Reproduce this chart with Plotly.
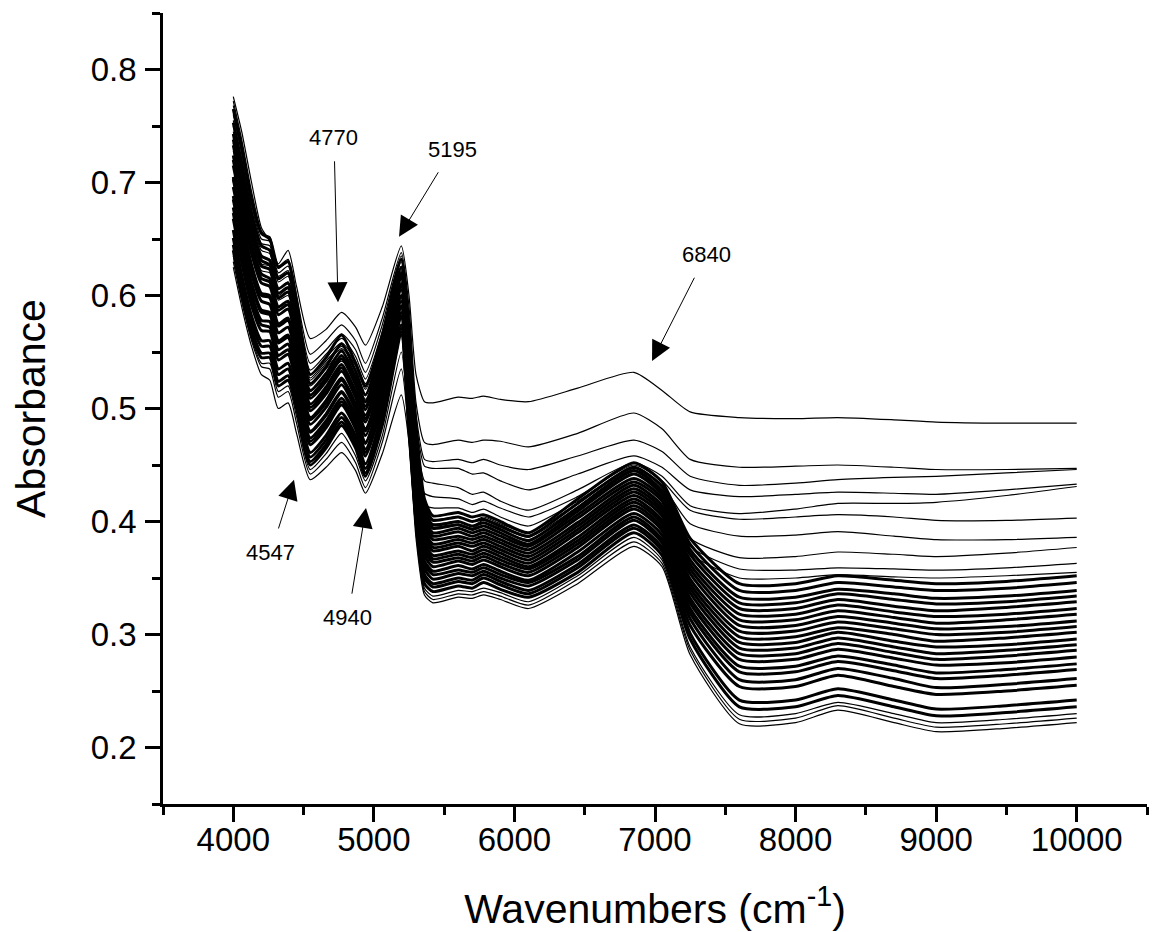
import plotly.graph_objects as go

# Wavenumber grid (cm-1) shared by all spectra
wavenumbers = [4000, 4060, 4130, 4200, 4260, 4320, 4390, 4450, 4547, 4660, 4770, 4870, 4940, 5060,
               5195, 5250, 5300, 5360, 5420, 5600, 5700, 5780, 5900, 6100, 6450, 6850, 7050, 7250,
               7600, 8000, 8300, 8700, 9000, 9500, 10000]

# Upper, well-separated spectra
spec_L01 = [.776,.745,.700,.660,.648,.628,.640,.608,.562,.570,.585,.572,.556,.590,.644,.600,.530,.506,.505,.510,.509,.511,.508,.506,.518,.532,.516,.497,.492,.491,.492,.490,.488,.487,.487]
spec_L02 = [.772,.738,.692,.657,.650,.626,.632,.600,.548,.560,.574,.560,.540,.580,.638,.590,.505,.470,.468,.472,.470,.472,.471,.466,.478,.496,.482,.455,.448,.449,.450,.448,.446,.446,.447]
spec_L03 = [.768,.735,.688,.655,.652,.624,.630,.596,.540,.552,.566,.552,.532,.574,.635,.583,.495,.455,.453,.455,.452,.455,.450,.446,.458,.472,.462,.440,.432,.434,.437,.439,.440,.443,.446]
spec_L04 = [.760,.726,.680,.650,.648,.620,.626,.592,.534,.548,.562,.546,.526,.568,.630,.577,.488,.449,.447,.447,.442,.443,.436,.428,.442,.458,.448,.428,.422,.424,.426,.425,.424,.428,.433]
spec_L05 = [.755,.720,.675,.646,.644,.617,.622,.588,.530,.545,.558,.542,.522,.563,.626,.572,.478,.436,.434,.430,.424,.426,.418,.410,.428,.452,.440,.414,.407,.411,.416,.416,.417,.423,.431]
spec_L06 = [.750,.716,.672,.643,.640,.614,.620,.586,.527,.542,.555,.540,.519,.560,.624,.568,.470,.425,.422,.420,.415,.418,.412,.404,.422,.450,.436,.410,.402,.404,.406,.404,.401,.401,.403]
spec_L07 = [.745,.712,.668,.640,.637,.612,.617,.584,.525,.540,.553,.538,.517,.558,.622,.565,.465,.415,.412,.412,.408,.411,.404,.396,.418,.448,.432,.398,.387,.388,.391,.387,.384,.384,.386]
spec_L08 = [.735,.700,.660,.634,.632,.606,.612,.580,.520,.535,.550,.533,.512,.553,.619,.560,.460,.410,.402,.404,.400,.404,.398,.390,.416,.447,.428,.385,.368,.369,.373,.371,.369,.372,.377]
spec_L09 = [.728,.694,.654,.628,.626,.600,.606,.575,.515,.530,.546,.529,.508,.549,.616,.556,.456,.405,.398,.400,.396,.401,.395,.386,.413,.446,.426,.378,.358,.357,.359,.358,.357,.359,.363]
spec_L10 = [.722,.688,.648,.622,.620,.596,.600,.570,.511,.526,.542,.526,.505,.546,.612,.552,.452,.402,.395,.398,.394,.399,.392,.384,.410,.445,.424,.372,.350,.350,.353,.351,.350,.352,.355]

# Dense band of spectra
spec_S01 = [.645,.605,.570,.549,.549,.524,.529,.504,.453,.468,.488,.468,.443,.488,.568,.483,.403,.345,.338,.343,.341,.346,.340,.333,.355,.390,.370,.296,.236,.236,.246,.236,.228,.231,.236]
spec_S02 = [.640,.600,.565,.545,.545,.520,.525,.500,.450,.465,.485,.465,.440,.485,.565,.480,.400,.350,.342,.347,.345,.350,.344,.336,.359,.394,.374,.301,.242,.242,.252,.242,.234,.237,.242]
spec_S03 = [.658,.618,.582,.560,.560,.535,.540,.513,.461,.476,.496,.476,.451,.496,.574,.491,.412,.353,.345,.350,.348,.353,.347,.339,.362,.397,.377,.308,.254,.254,.264,.254,.247,.250,.255]
spec_S04 = [.651,.612,.576,.555,.555,.530,.535,.509,.457,.472,.492,.472,.447,.492,.571,.487,.408,.358,.349,.354,.352,.356,.350,.343,.366,.401,.381,.314,.260,.260,.270,.261,.253,.256,.261]
spec_S05 = [.668,.629,.591,.569,.568,.543,.548,.521,.468,.483,.503,.482,.458,.503,.580,.498,.419,.362,.353,.357,.355,.359,.353,.346,.369,.404,.384,.319,.267,.267,.276,.268,.261,.264,.269]
spec_S06 = [.678,.639,.601,.578,.577,.552,.557,.529,.474,.489,.509,.488,.464,.509,.585,.504,.426,.365,.356,.361,.358,.362,.356,.348,.373,.407,.388,.323,.272,.272,.281,.273,.266,.269,.274]
spec_S07 = [.673,.634,.596,.574,.572,.547,.552,.525,.471,.486,.506,.485,.461,.506,.582,.501,.422,.370,.360,.365,.362,.366,.360,.352,.377,.411,.392,.328,.278,.278,.287,.279,.273,.275,.280]
spec_S08 = [.688,.649,.611,.587,.585,.560,.565,.536,.480,.495,.515,.494,.470,.515,.591,.510,.432,.374,.364,.368,.365,.369,.363,.355,.380,.414,.395,.332,.283,.283,.292,.284,.278,.281,.286]
spec_S09 = [.696,.659,.619,.595,.592,.567,.572,.543,.486,.501,.521,.499,.476,.521,.595,.516,.438,.377,.367,.371,.368,.372,.366,.358,.383,.417,.398,.337,.288,.288,.297,.289,.283,.286,.291]
spec_S10 = [.685,.647,.608,.585,.583,.558,.563,.534,.479,.494,.514,.492,.469,.514,.589,.509,.431,.381,.370,.374,.371,.375,.369,.360,.386,.420,.401,.341,.293,.293,.302,.294,.289,.291,.296]
spec_S11 = [.705,.668,.627,.602,.600,.575,.580,.549,.492,.507,.527,.504,.482,.527,.600,.522,.444,.385,.374,.378,.374,.378,.372,.363,.390,.423,.405,.345,.298,.298,.306,.300,.294,.297,.302]
spec_S12 = [.715,.678,.637,.611,.608,.583,.588,.557,.498,.513,.533,.510,.488,.533,.605,.528,.451,.389,.377,.381,.378,.381,.375,.366,.393,.426,.408,.349,.303,.303,.311,.305,.300,.302,.307]
spec_S13 = [.703,.665,.625,.600,.598,.573,.578,.548,.490,.505,.525,.503,.480,.525,.599,.520,.443,.392,.380,.384,.381,.384,.378,.369,.396,.429,.411,.354,.308,.308,.316,.310,.305,.307,.312]
spec_S14 = [.724,.687,.645,.619,.615,.590,.595,.564,.504,.519,.539,.515,.494,.539,.610,.534,.457,.396,.384,.387,.384,.387,.381,.372,.399,.432,.414,.358,.313,.313,.321,.315,.310,.313,.318]
spec_S15 = [.733,.696,.654,.626,.623,.598,.603,.570,.509,.524,.544,.521,.499,.544,.615,.539,.463,.400,.387,.391,.387,.390,.384,.375,.403,.435,.418,.362,.318,.318,.326,.320,.316,.318,.323]
spec_S16 = [.720,.683,.642,.615,.612,.587,.592,.561,.501,.516,.536,.513,.491,.536,.608,.531,.454,.404,.390,.394,.390,.393,.387,.378,.406,.438,.421,.366,.323,.323,.331,.325,.321,.324,.329]
spec_S17 = [.743,.707,.663,.635,.631,.606,.611,.578,.516,.531,.551,.527,.506,.551,.620,.546,.470,.407,.394,.397,.393,.396,.390,.380,.409,.442,.424,.371,.328,.328,.336,.331,.327,.329,.334]
spec_S18 = [.753,.717,.673,.644,.640,.615,.620,.586,.522,.537,.557,.533,.512,.557,.625,.552,.477,.411,.397,.400,.396,.399,.393,.383,.412,.445,.427,.375,.333,.333,.340,.336,.332,.334,.339]
spec_S19 = [.738,.701,.659,.631,.627,.602,.607,.574,.512,.527,.547,.524,.502,.547,.617,.542,.466,.416,.401,.404,.400,.402,.396,.387,.416,.448,.431,.380,.339,.339,.346,.342,.339,.341,.346]
spec_S20 = [.765,.730,.685,.655,.650,.625,.630,.595,.530,.545,.565,.540,.520,.565,.632,.560,.485,.420,.405,.408,.404,.406,.400,.390,.420,.452,.435,.385,.345,.345,.352,.348,.345,.347,.352]

# Lowest spectra
spec_B01 = [.625,.590,.555,.530,.525,.500,.505,.478,.437,.448,.461,.445,.425,.460,.512,.470,.385,.335,.328,.333,.332,.335,.331,.323,.345,.378,.360,.282,.221,.222,.233,.222,.214,.217,.222]
spec_B02 = [.630,.595,.560,.537,.535,.510,.515,.487,.442,.455,.470,.452,.430,.470,.535,.475,.390,.338,.331,.336,.335,.338,.334,.326,.349,.382,.363,.286,.225,.226,.237,.226,.218,.221,.226]
spec_B03 = [.635,.598,.562,.540,.540,.515,.520,.493,.446,.460,.478,.458,.436,.476,.550,.478,.395,.341,.334,.339,.338,.341,.337,.329,.352,.386,.366,.289,.229,.230,.240,.230,.222,.225,.230]

upper = [spec_L01, spec_L02, spec_L03, spec_L04, spec_L05, spec_L06, spec_L07, spec_L08, spec_L09, spec_L10]
band = [spec_S01, spec_S02, spec_S03, spec_S04, spec_S05, spec_S06, spec_S07, spec_S08, spec_S09, spec_S10,
        spec_S11, spec_S12, spec_S13, spec_S14, spec_S15, spec_S16, spec_S17, spec_S18, spec_S19, spec_S20]
lower = [spec_B01, spec_B02, spec_B03]

# Peak annotations: label, arrow head (x, y), label position (x, y)
peak_labels = ["4770", "5195", "4547", "4940", "6840"]
head_x = [4745, 5179, 4432, 4944, 6979]
head_y = [0.594, 0.652, 0.437, 0.412, 0.542]
text_x = [4716, 5556, 4268, 4816, 7363]
text_y = [0.740, 0.729, 0.373, 0.315, 0.636]

FONT = "Liberation Sans, Arial, Helvetica, sans-serif"

fig = go.Figure()

def add_spec(vals, width):
    fig.add_trace(go.Scatter(
        x=wavenumbers, y=vals, mode="lines",
        line=dict(color="black", width=width, shape="spline", smoothing=0.6),
        hoverinfo="skip", showlegend=False))

for s in band:
    add_spec(s, 3.0)
for s in upper:
    add_spec(s, 1.2)
for s in lower:
    add_spec(s, 1.2)

for lab, hx, hy, tx, ty in zip(peak_labels, head_x, head_y, text_x, text_y):
    fig.add_annotation(
        x=hx, y=hy, ax=tx, ay=ty, xref="x", yref="y", axref="x", ayref="y",
        text=lab, showarrow=True, arrowhead=2, arrowsize=4, arrowwidth=1,
        arrowcolor="black", startstandoff=10,
        font=dict(family=FONT, size=22, color="black"))

axis_common = dict(
    showline=True, linecolor="black", linewidth=2.5, showgrid=False, zeroline=False,
    ticks="outside", ticklen=15, tickwidth=2.5, tickcolor="black",
    tickfont=dict(family=FONT, size=33, color="black"),
    mirror=False, automargin=False,
)

fig.update_xaxes(
    range=[3500, 10500], tick0=4000, dtick=1000, tickformat="d",
    minor=dict(tick0=3500, dtick=500, ticks="outside", ticklen=8, tickwidth=2.5, tickcolor="black", showgrid=False),
    title=dict(text="Wavenumbers (cm<sup>-1</sup>)", font=dict(family=FONT, size=41, color="black"), standoff=44),
    ticklabelstandoff=-10,
    **axis_common)

fig.update_yaxes(
    range=[0.15, 0.85], tick0=0.2, dtick=0.1, tickformat=".1f",
    minor=dict(tick0=0.15, dtick=0.05, ticks="outside", ticklen=8, tickwidth=2.5, tickcolor="black", showgrid=False),
    title=dict(text="Absorbance", font=dict(family=FONT, size=41, color="black"), standoff=38),
    ticklabelstandoff=2,
    **axis_common)

# The page body adds an 8 px offset, so the figure is sized to keep the plot
# area where the reference has it.
fig.update_layout(
    width=1149, height=924, autosize=False,
    margin=dict(l=155, r=10, t=5, b=128),
    paper_bgcolor="white", plot_bgcolor="white",
    font=dict(family=FONT, color="black"),
    showlegend=False,
)

fig.write_html("out.html")
